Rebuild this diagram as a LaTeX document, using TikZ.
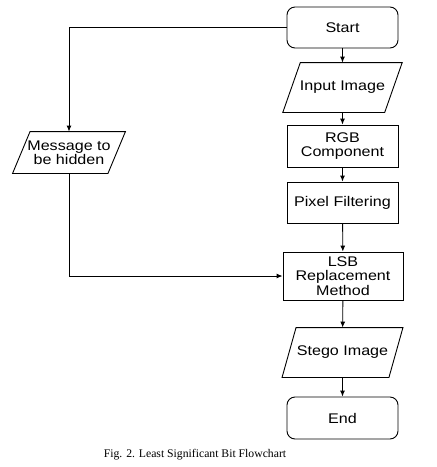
\documentclass[tikz,border=0pt]{standalone}
\usepackage{fontspec}
\setmainfont{Liberation Serif}
\newfontfamily\boxfont{Liberation Sans}[FakeStretch=1.15]
\usetikzlibrary{arrows.meta,calc}
\tikzset{
  base/.style={font=\boxfont\fontsize{14}{14.5}\selectfont, align=center, inner sep=0pt, line width=0.9pt},
  term/.style={base, draw, rounded corners=8pt, minimum width=111pt, minimum height=41pt},
  proc/.style={base, draw, minimum width=111pt, minimum height=41pt},
  io/.style={base, minimum height=49pt},
  conn/.style={line width=0.9pt, -{Latex[length=6pt,width=5pt]}},
  frame/.style={line width=0.9pt}
}
\newcommand{\slantbox}[2]{%
  \draw[frame] ([xshift=#2]#1.north west) -- ([xshift=#2]#1.north east)
    -- ([xshift=-#2]#1.south east) -- ([xshift=-#2]#1.south west) -- cycle;}
\begin{document}
\begin{tikzpicture}[x=1pt,y=-1pt]
\useasboundingbox (0,0) rectangle (437,467);
\node[term] (start) at (342.5,27.5) {Start};
\node[io, minimum width=101pt] (input) at (342.5,87.5) {Input Image};
\slantbox{input}{8.75pt}
\node[proc, minimum height=42pt] (rgb) at (342.5,146) {RGB\\Component};
\node[proc] (pixel) at (342.5,202.5) {Pixel Filtering};
\node[proc, minimum width=120pt, minimum height=48pt] (lsb) at (343,276) {LSB\\Replacement\\Method};
\node[io, minimum width=106pt] (stego) at (342.5,352.5) {Stego Image};
\slantbox{stego}{7pt}
\node[term, minimum height=42pt] (end) at (342.5,418) {End};
\node[io, minimum width=94.5pt, minimum height=41pt] (msg) at (69,152.5) {Message to\\be hidden};
\slantbox{msg}{8.75pt}
\node[font=\fontsize{11.7}{13}\selectfont, inner sep=0pt] (cap) at (195,455) {Fig. 2. Least Significant Bit Flowchart};
\draw[conn] (start) -- (input);
\draw[conn] (input) -- (rgb);
\draw[conn] (rgb) -- (pixel);
\draw[conn] (pixel) -- (lsb);
\draw[conn] (lsb) -- (stego);
\draw[conn] (stego) -- (end);
\draw[conn] (start.west) -| (msg.north);
\draw[conn] (msg.south) |- (lsb.west);
\end{tikzpicture}
\end{document}
